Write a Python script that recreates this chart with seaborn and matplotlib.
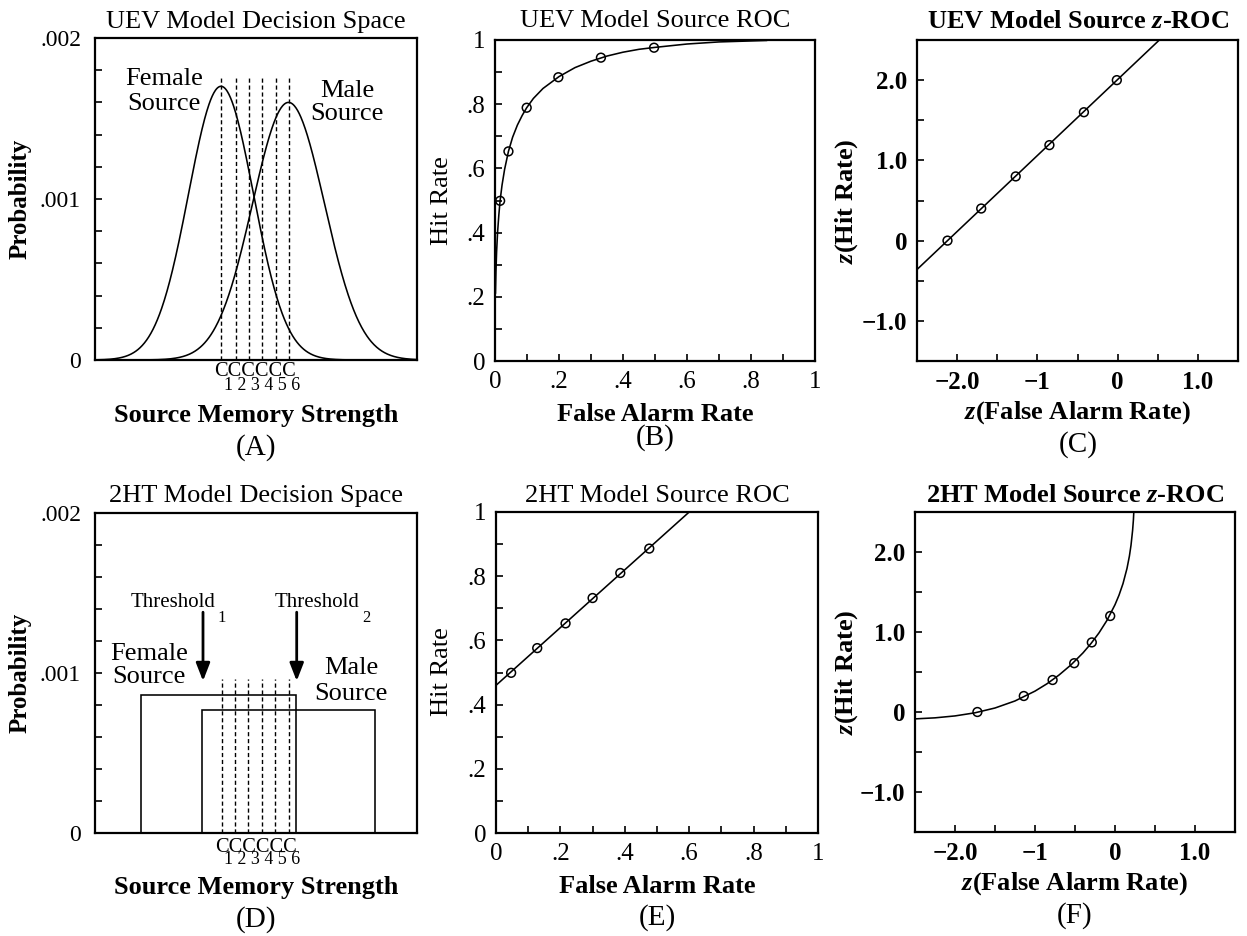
import numpy as np
import pandas as pd
import matplotlib
matplotlib.use("Agg")
import matplotlib.pyplot as plt
import matplotlib.transforms as mtransforms
from matplotlib.patches import Rectangle
import seaborn as sns

W, H = 1247, 936

# ---------------- data ----------------
# Panel A: UEV decision space (strength axis in arbitrary units 0..322)
uev_labels = ["Female", "Male"]
uev_means = [126.0, 193.5]
uev_sds = [32.5, 36.0]
uev_peaks = [0.0017, 0.0016]
uev_criteria = [126, 141, 154, 167, 181, 194]
uev_crit_top = 0.00176

# Panel B: UEV ROC
uev_fa = [0.016, 0.042, 0.099, 0.198, 0.331, 0.497]
uev_hit = [0.499, 0.653, 0.789, 0.884, 0.945, 0.976]
uev_curve_fa = [0.0015, 0.003, 0.005, 0.008, 0.012, 0.016, 0.022, 0.03, 0.042, 0.055,
                0.07, 0.085, 0.099, 0.12, 0.15, 0.2, 0.25, 0.3, 0.35, 0.4, 0.45, 0.5,
                0.6, 0.7, 0.85]
uev_curve_hit = [0.21, 0.28, 0.34, 0.40, 0.455, 0.50, 0.548, 0.597, 0.653, 0.697,
                 0.735, 0.765, 0.789, 0.818, 0.849, 0.886, 0.914, 0.934, 0.95, 0.962,
                 0.971, 0.977, 0.9875, 0.994, 0.9986]

# Panel C: UEV z-ROC
uev_zfa = [-2.12, -1.70, -1.27, -0.85, -0.42, -0.01]
uev_zhit = [0.0, 0.40, 0.80, 1.19, 1.60, 2.0]
uev_zline_x = [-2.5, 0.52]
uev_zline_y = [-0.36, 2.5]

# Panel D: 2HT decision space
ht_female_x = [46, 201]
ht_female_h = 0.00086
ht_male_x = [107, 280]
ht_male_h = 0.00077
ht_criteria = [127, 140, 153, 167, 180, 194]
ht_crit_top = 0.00096
ht_thresholds = [108, 201.7]

# Panel E: 2HT ROC
ht_fa = [0.047, 0.128, 0.216, 0.300, 0.386, 0.476]
ht_hit = [0.499, 0.576, 0.653, 0.732, 0.810, 0.886]
ht_line_x = [0.0, 0.60]
ht_line_y = [0.46, 1.0]

# Panel F: 2HT z-ROC
ht_zfa = [-1.72, -1.14, -0.78, -0.51, -0.29, -0.06]
ht_zhit = [0.0, 0.20, 0.40, 0.61, 0.87, 1.20]
ht_zcurve_x = [-2.5, -2.25, -2.0, -1.75, -1.5, -1.25, -1.0, -0.85, -0.7, -0.55, -0.4,
               -0.3, -0.2, -0.1, 0.0, 0.05, 0.1, 0.15, 0.18, 0.2, 0.22, 0.23, 0.235]
ht_zcurve_y = [-0.086, -0.073, -0.049, -0.010, 0.050, 0.138, 0.261, 0.353, 0.462, 0.589,
               0.739, 0.856, 0.989, 1.146, 1.341, 1.460, 1.605, 1.795, 1.949, 2.084,
               2.27, 2.40, 2.5]

crit_names = ["1", "2", "3", "4", "5", "6"]
roc_ticklabels = ["0", ".2", ".4", ".6", ".8", "1"]
prob_ticklabels = ["0", ".001", ".002"]
zx_ticklabels = ["\u22122.0", "\u22121", "0", "1.0"]
zy_ticklabels = ["\u22121.0", "0", "1.0", "2.0"]

# ---------------- style ----------------
sns.set_theme(style="ticks")
plt.rcParams["font.family"] = ["Liberation Serif", "DejaVu Serif"]
plt.rcParams["mathtext.fontset"] = "custom"
plt.rcParams["mathtext.rm"] = "Liberation Serif:bold"
plt.rcParams["mathtext.it"] = "Liberation Serif:italic:bold"
plt.rcParams["axes.edgecolor"] = "black"
plt.rcParams["xtick.color"] = "black"
plt.rcParams["ytick.color"] = "black"
plt.rcParams["text.color"] = "black"

fig = plt.figure(figsize=(W / 100, H / 100), dpi=100)
fig.patch.set_facecolor("white")

LW = 1.15


def px_axes(l, t, w, h):
    return fig.add_axes([l / W, 1 - (t + h) / H, w / W, h / H])


def ftext(x, y, s, **kw):
    kw.setdefault("ha", "center")
    return fig.text(x / W, 1 - y / H, s, **kw)


def frame(ax):
    for sp in ax.spines.values():
        sp.set_visible(True)
        sp.set_linewidth(1.6)
        sp.set_color("black")
    ax.grid(False)
    ax.set_facecolor("white")
    ax.tick_params(which="both", direction="in", length=5, width=1.2,
                   top=False, right=False, colors="black")
    ax.set_xlabel("")
    ax.set_ylabel("")


def circles(ax, x, y):
    sns.scatterplot(x=x, y=y, ax=ax, marker="o", s=40, facecolor="none",
                    edgecolor="black", linewidth=1.1, zorder=5, legend=False)


def crit_labels(ax, xs, yc, yd):
    # The criterion labels sit shoulder to shoulder (as in the original figure),
    # so each row is set as one string centred on the criteria.
    blend = mtransforms.blended_transform_factory(ax.transData, ax.transAxes)
    dig = mtransforms.offset_copy(blend, fig=fig, x=6.7, y=0, units="dots")
    xc = (xs[0] + xs[-1]) / 2.0
    ax.text(xc, yc, "C" * len(xs), transform=blend, ha="center", va="center",
            fontsize=14.7, clip_on=False)
    ax.text(xc, yd, " ".join(crit_names[:len(xs)]), transform=dig, ha="center",
            va="center", fontsize=12.9, clip_on=False)


# ---------------- Panel A ----------------
axA = px_axes(95, 38, 322, 322)
xs = np.linspace(0, 322, 600)
for m, sd, pk in zip(uev_means, uev_sds, uev_peaks):
    dens = pk * np.exp(-0.5 * ((xs - m) / sd) ** 2)
    sns.lineplot(x=xs, y=dens, ax=axA, color="black", lw=LW)
axA.vlines(uev_criteria, 0, uev_crit_top, colors="black", linestyles=(0, (3, 2)), lw=1.0)
axA.set_xlim(0, 322)
axA.set_ylim(0, 0.002)
frame(axA)
axA.set_xticks([])
axA.set_yticks([0, 0.001, 0.002])
axA.set_yticks(np.arange(0, 0.00201, 0.0002), minor=True)
axA.set_yticklabels(prob_ticklabels, fontsize=17)
axA.tick_params(axis="y", pad=10)
axA.text(69, 0.001668, "Female\nSource", ha="center", va="center", fontsize=19,
         linespacing=1.2)
axA.text(252, 0.0016, "Male\nSource", ha="center", va="center", fontsize=19,
         linespacing=1.1)
crit_labels(axA, uev_criteria, -11 / 322, -25 / 322)

# ---------------- Panel B ----------------
axB = px_axes(495, 40, 320, 321)
sns.lineplot(x=uev_curve_fa, y=uev_curve_hit, ax=axB, color="black", lw=LW)
circles(axB, uev_fa, uev_hit)
axB.set_xlim(0, 1)
axB.set_ylim(0, 1)
frame(axB)

# ---------------- Panel C ----------------
axC = px_axes(917, 40, 321, 321)
sns.lineplot(x=uev_zline_x, y=uev_zline_y, ax=axC, color="black", lw=LW)
circles(axC, uev_zfa, uev_zhit)
axC.set_xlim(-2.5, 1.5)
axC.set_ylim(-1.5, 2.5)
frame(axC)

# ---------------- Panel D ----------------
axD = px_axes(95, 513, 322, 320)
axD.add_patch(Rectangle((ht_female_x[0], 0), ht_female_x[1] - ht_female_x[0], ht_female_h,
                        fill=False, ec="black", lw=LW))
axD.add_patch(Rectangle((ht_male_x[0], 0), ht_male_x[1] - ht_male_x[0], ht_male_h,
                        fill=False, ec="black", lw=LW))
axD.vlines(ht_criteria, 0, ht_crit_top, colors="black", linestyles=(0, (3, 2)), lw=1.0)
axD.set_xlim(0, 322)
axD.set_ylim(0, 0.002)
frame(axD)
axD.set_xticks([])
axD.set_yticks([0, 0.001, 0.002])
axD.set_yticks(np.arange(0, 0.00201, 0.0002), minor=True)
axD.set_yticklabels(prob_ticklabels, fontsize=17)
axD.tick_params(axis="y", pad=10)
axD.text(54, 0.001045, "Female\nSource", ha="center", va="center", fontsize=19,
         linespacing=1.08)
axD.text(256, 0.000951, "Male\nSource", ha="center", va="center", fontsize=19,
         linespacing=1.2)
for tx, cx, sx, sub in [(ht_thresholds[0], 78, 122, "1"), (ht_thresholds[1], 222, 267, "2")]:
    axD.text(cx, 0.001414, "Threshold", ha="center", va="baseline", fontsize=15)
    axD.text(sx, 0.00132, sub, ha="left", va="baseline", fontsize=12)
    axD.annotate("", xy=(tx, 0.00095), xytext=(tx, 0.00138),
                 arrowprops=dict(arrowstyle="-|>,head_length=0.9,head_width=0.35",
                                 color="black", lw=2.0, shrinkA=0, shrinkB=0))
crit_labels(axD, ht_criteria, -15 / 320, -27 / 320)

# ---------------- Panel E ----------------
axE = px_axes(496, 512, 322, 321)
sns.lineplot(x=ht_line_x, y=ht_line_y, ax=axE, color="black", lw=LW)
circles(axE, ht_fa, ht_hit)
axE.set_xlim(0, 1)
axE.set_ylim(0, 1)
frame(axE)

# ---------------- Panel F ----------------
axF = px_axes(915, 512, 320, 320)
sns.lineplot(x=ht_zcurve_x, y=ht_zcurve_y, ax=axF, color="black", lw=LW)
circles(axF, ht_zfa, ht_zhit)
axF.set_xlim(-2.5, 1.5)
axF.set_ylim(-1.5, 2.5)
frame(axF)

# ROC ticks
for ax in (axB, axE):
    ax.set_xticks(np.linspace(0, 1, 6))
    ax.set_yticks(np.linspace(0, 1, 6))
    ax.set_xticks(np.linspace(0, 1, 11), minor=True)
    ax.set_yticks(np.linspace(0, 1, 11), minor=True)
    ax.set_xticklabels(roc_ticklabels, fontsize=18)
    ax.set_yticklabels(roc_ticklabels, fontsize=18)
    ax.tick_params(axis="x", pad=7)
    ax.tick_params(axis="y", pad=7)

for ax in (axC, axF):
    ax.set_xticks([-2, -1, 0, 1])
    ax.set_yticks([-1, 0, 1, 2])
    ax.set_xticks(np.arange(-2.0, 1.51, 0.5), minor=True)
    ax.set_yticks(np.arange(-1.5, 2.51, 0.5), minor=True)
    ax.set_xticklabels(zx_ticklabels, fontsize=18, fontweight="bold")
    ax.set_yticklabels(zy_ticklabels, fontsize=18, fontweight="bold")
    ax.tick_params(axis="x", pad=7)
    ax.tick_params(axis="y", pad=7)

# ---------------- titles & labels ----------------
ftext(256, 28, "UEV Model Decision Space", fontsize=19, va="baseline")
ftext(655, 27, "UEV Model Source ROC", fontsize=19, va="baseline")
ftext(1078, 28, "UEV Model Source $z$-ROC", fontsize=19, va="baseline", fontweight="bold")
ftext(256, 502, "2HT Model Decision Space", fontsize=19, va="baseline")
ftext(657, 502, "2HT Model Source ROC", fontsize=19, va="baseline")
ftext(1075, 502, "2HT Model Source $z$-ROC", fontsize=19, va="baseline", fontweight="bold")

ftext(256, 421.7, "Source Memory Strength", fontsize=19, va="baseline", fontweight="bold")
ftext(655, 420.7, "False Alarm Rate", fontsize=19, va="baseline", fontweight="bold")
ftext(1078, 418.3, "$z$(False Alarm Rate)", fontsize=19, va="baseline", fontweight="bold")
ftext(256, 894, "Source Memory Strength", fontsize=19, va="baseline", fontweight="bold")
ftext(657, 893, "False Alarm Rate", fontsize=19, va="baseline", fontweight="bold")
ftext(1075, 890, "$z$(False Alarm Rate)", fontsize=19, va="baseline", fontweight="bold")

ftext(256, 455, "(A)", fontsize=21, va="baseline")
ftext(655, 445, "(B)", fontsize=21, va="baseline")
ftext(1078, 451.7, "(C)", fontsize=21, va="baseline")
ftext(256, 926.7, "(D)", fontsize=21, va="baseline")
ftext(657, 925, "(E)", fontsize=21, va="baseline")
ftext(1075, 923, "(F)", fontsize=21, va="baseline")

ftext(20, 199, "Probability", fontsize=18, va="center", rotation=90, fontweight="bold")
ftext(20, 673, "Probability", fontsize=18, va="center", rotation=90, fontweight="bold")
ftext(441.7, 201, "Hit Rate", fontsize=19, va="center", rotation=90)
ftext(441.7, 672, "Hit Rate", fontsize=19, va="center", rotation=90)
ftext(846.7, 201, "$z$(Hit Rate)", fontsize=19, va="center", rotation=90, fontweight="bold")
ftext(846.7, 672, "$z$(Hit Rate)", fontsize=19, va="center", rotation=90, fontweight="bold")

fig.savefig("out.png", dpi=100, facecolor="white")
